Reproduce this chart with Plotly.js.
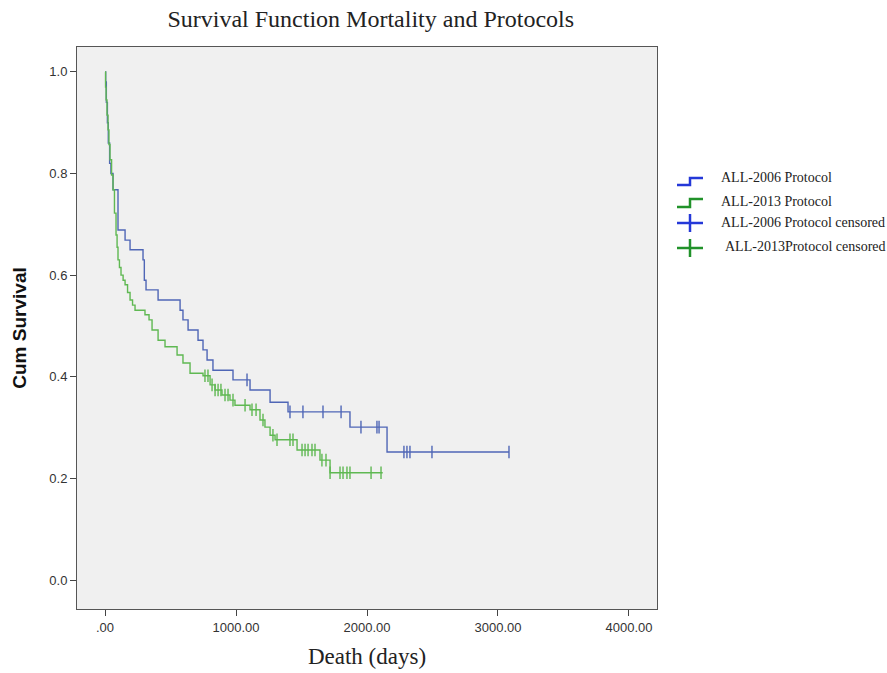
<!DOCTYPE html>
<html>
<head>
<meta charset="utf-8">
<script src="https://cdn.plot.ly/plotly-3.0.1.min.js"></script>
<style>
html,body{margin:0;padding:0;background:#fff;}
#chart{width:887px;height:673px;}
</style>
</head>
<body>
<div id="chart"></div>
<script>
// ALL-2006 Protocol: Kaplan-Meier step points (time in days, cumulative survival)
const blueTime = [0, 5, 10, 18, 25, 35, 45, 61, 99, 153, 191, 290, 300, 313, 405, 573, 595, 634, 710, 748, 779, 824, 977, 1107, 1260, 1397, 1870, 2153, 3084];
const blueSurv = [1.0, 0.98, 0.94, 0.90, 0.86, 0.82, 0.80, 0.768, 0.689, 0.669, 0.650, 0.630, 0.59, 0.571, 0.551, 0.531, 0.512, 0.492, 0.472, 0.453, 0.433, 0.413, 0.394, 0.374, 0.350, 0.331, 0.301, 0.252, 0.252];
// ALL-2006 censored
const blueCensTime = [1084, 1412, 1511, 1664, 1802, 1954, 2076, 2092, 2282, 2305, 2328, 2496, 3084];
const blueCensSurv = [0.394, 0.331, 0.331, 0.331, 0.331, 0.301, 0.301, 0.301, 0.252, 0.252, 0.252, 0.252, 0.252];

// ALL-2013 Protocol
const greenTime = [0, 4, 8, 15, 23, 30, 38, 50, 61, 72, 84, 92, 99, 110, 122, 138, 153, 172, 191, 210, 229, 305, 336, 359, 405, 458, 550, 595, 649, 748, 802, 840, 893, 954, 992, 1107, 1183, 1221, 1260, 1298, 1466, 1641, 1718, 2120];
const greenSurv = [1.0, 0.97, 0.945, 0.915, 0.886, 0.857, 0.827, 0.797, 0.768, 0.722, 0.679, 0.655, 0.630, 0.615, 0.600, 0.590, 0.581, 0.566, 0.551, 0.541, 0.531, 0.522, 0.512, 0.492, 0.472, 0.459, 0.443, 0.427, 0.407, 0.402, 0.384, 0.374, 0.364, 0.354, 0.344, 0.335, 0.315, 0.301, 0.285, 0.276, 0.256, 0.236, 0.211, 0.211];
// ALL-2013 censored
const greenCensTime = [763, 786, 817, 840, 863, 885, 916, 939, 977, 1069, 1122, 1153, 1206, 1282, 1313, 1412, 1435, 1504, 1527, 1550, 1580, 1603, 1656, 1687, 1718, 1794, 1817, 1847, 1870, 2031, 2107];
const greenCensSurv = [0.402, 0.402, 0.384, 0.374, 0.374, 0.374, 0.364, 0.364, 0.354, 0.344, 0.335, 0.335, 0.315, 0.285, 0.276, 0.276, 0.276, 0.256, 0.256, 0.256, 0.256, 0.256, 0.236, 0.236, 0.211, 0.211, 0.211, 0.211, 0.211, 0.211, 0.211];

const xTickVals = [0, 1000, 2000, 3000, 4000];
const xTickText = ['.00', '1000.00', '2000.00', '3000.00', '4000.00'];
const yTickVals = [0, 0.2, 0.4, 0.6, 0.8, 1.0];
const yTickText = ['0.0', '0.2', '0.4', '0.6', '0.8', '1.0'];

const legendLabels = ['ALL-2006 Protocol', 'ALL-2013 Protocol', 'ALL-2006 Protocol censored', 'ALL-2013Protocol censored'];

const lineBlue = '#4f66b6';
const lineGreen = '#5fb852';
const legBlue = '#2438d8';
const legGreen = '#21922a';

const traces = [
  {x: blueTime, y: blueSurv, type: 'scatter', mode: 'lines', line: {shape: 'hv', color: lineBlue, width: 1.4}, showlegend: false},
  {x: greenTime, y: greenSurv, type: 'scatter', mode: 'lines', line: {shape: 'hv', color: lineGreen, width: 1.4}, showlegend: false},
  {x: blueCensTime, y: blueCensSurv, type: 'scatter', mode: 'markers', marker: {symbol: 'line-ns-open', size: 9, color: lineBlue, line: {color: lineBlue, width: 1.4}}, showlegend: false},
  {x: greenCensTime, y: greenCensSurv, type: 'scatter', mode: 'markers', marker: {symbol: 'line-ns-open', size: 9, color: lineGreen, line: {color: lineGreen, width: 1.4}}, showlegend: false}
];

// pixel -> paper helpers for the hand-drawn legend
const L = 77, R = 657, T = 47, B = 609;
const px = x => (x - L) / (R - L);
const py = y => (B - y) / (B - T);

const shapes = [
  {type: 'path', xref: 'paper', yref: 'paper', path: `M ${px(677)} ${py(185)} L ${px(690)} ${py(185)} L ${px(690)} ${py(178)} L ${px(703)} ${py(178)}`, line: {color: legBlue, width: 2.5}},
  {type: 'path', xref: 'paper', yref: 'paper', path: `M ${px(677)} ${py(207)} L ${px(690)} ${py(207)} L ${px(690)} ${py(199)} L ${px(703)} ${py(199)}`, line: {color: legGreen, width: 2.5}},
  {type: 'line', xref: 'paper', yref: 'paper', x0: px(677), x1: px(703), y0: py(223), y1: py(223), line: {color: legBlue, width: 2.5}},
  {type: 'line', xref: 'paper', yref: 'paper', x0: px(690), x1: px(690), y0: py(214), y1: py(232), line: {color: legBlue, width: 2.5}},
  {type: 'line', xref: 'paper', yref: 'paper', x0: px(677), x1: px(703), y0: py(248), y1: py(248), line: {color: legGreen, width: 2.5}},
  {type: 'line', xref: 'paper', yref: 'paper', x0: px(690), x1: px(690), y0: py(239), y1: py(257), line: {color: legGreen, width: 2.5}}
];

const legY = [178, 201, 222, 247];
const legX = [719, 719, 719, 723];
const annotations = legendLabels.map((t, i) => ({
  text: t, xref: 'paper', yref: 'paper', x: px(legX[i]), y: py(legY[i]),
  xanchor: 'left', yanchor: 'middle', showarrow: false,
  font: {family: 'Liberation Serif, serif', size: 14, color: '#222'}
}));

const layout = {
  width: 887, height: 673,
  margin: {l: L, r: 887 - R, t: T, b: 673 - B, pad: 0},
  paper_bgcolor: '#ffffff',
  plot_bgcolor: '#f0f0f0',
  showlegend: false,
  title: {text: 'Survival Function Mortality and Protocols', x: 0.418, xanchor: 'center', y: 0.973, yanchor: 'middle',
    font: {family: 'Liberation Serif, serif', size: 24, color: '#222'}},
  xaxis: {
    range: [-214, 4214], tickvals: xTickVals, ticktext: xTickText,
    showgrid: false, zeroline: false, showline: true, mirror: true, linecolor: '#555', linewidth: 1,
    ticks: 'outside', ticklen: 6, tickcolor: '#444', tickwidth: 1,
    tickfont: {family: 'Liberation Sans, Arial, sans-serif', size: 13, color: '#333'},
    title: {text: 'Death (days)', font: {family: 'Liberation Serif, serif', size: 23, color: '#222'}, standoff: 14}
  },
  yaxis: {
    range: [-0.057, 1.049], tickvals: yTickVals, ticktext: yTickText,
    showgrid: false, zeroline: false, showline: true, mirror: true, linecolor: '#555', linewidth: 1,
    ticks: 'outside', ticklen: 6, tickcolor: '#444', tickwidth: 1,
    tickfont: {family: 'Liberation Sans, Arial, sans-serif', size: 13, color: '#333'},
    title: {text: '<b>Cum Survival</b>', font: {family: 'Liberation Sans, Arial, sans-serif', size: 19, color: '#111'}, standoff: 17}
  },
  shapes: shapes,
  annotations: annotations
};

Plotly.newPlot('chart', traces, layout, {displayModeBar: false, staticPlot: true});
</script>
</body>
</html>
